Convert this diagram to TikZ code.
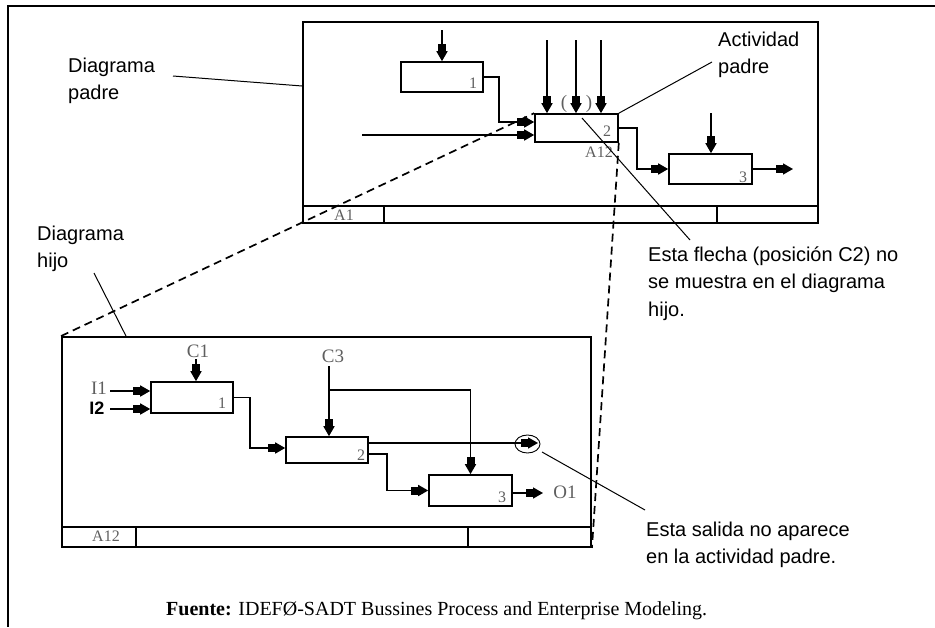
\documentclass[tikz,border=0pt]{standalone}
\usepackage{fontspec}
\setmainfont{Liberation Serif}
\newfontfamily\annfont{Liberation Sans}
\usetikzlibrary{arrows.meta,shapes.geometric,calc}
\definecolor{lblgray}{RGB}{95,95,95}
\begin{document}
\begin{tikzpicture}[x=1pt,y=-1pt,
  frame/.style={draw, line width=1.9pt, inner sep=0pt},
  actbox/.style={draw, line width=1.6pt, inner sep=0pt},
  arr/.style={line width=1.6pt,
    -{Rectangle[length=7pt,width=8pt,sep=0pt]Triangle[length=10pt,width=11pt]}},
  lead/.style={line width=1pt},
  ref/.style={line width=1.7pt, dash pattern=on 8pt off 5pt},
  ann/.style={font=\annfont\fontsize{20}{27.5}\selectfont, align=left,
    anchor=base west, inner sep=0pt},
  lbl/.style={text=lblgray, font=\fontsize{19}{19}\selectfont, inner sep=0pt},
  num/.style={text=lblgray, font=\fontsize{16}{16}\selectfont, inner sep=0pt},
]
\useasboundingbox (0,0) rectangle (935,627);

% page border (top and left edges only)
\draw[line width=1.9pt] (935,6) -- (8,6) -- (8,627);

% ---------------- parent diagram ----------------
\node[frame, minimum width=515pt, minimum height=201pt] (pf) at (560.5,122.5) {};
\draw[line width=1.5pt] (303,206) -- (818,206);
\draw[line width=1.5pt] (384,206) -- (384,223);
\draw[line width=1.5pt] (717,206) -- (717,223);
\node[num] (pA1) at (344,215) {A1};

\node[actbox, minimum width=82pt, minimum height=30pt] (p1) at (442,77) {};
\node[actbox, minimum width=83pt, minimum height=28pt] (p2) at (576.5,128) {};
\node[actbox, minimum width=83pt, minimum height=30pt] (p3) at (710.5,169) {};
\node[num] (p1n) at (473,83) {1};
\node[num] (p2n) at (607,131) {2};
\node[num] (p3n) at (743,177) {3};
\node[num] (p2ref) at (599,152) {A12};
\node[lbl] (parL) at (564,104) {(};
\node[lbl] (parR) at (589,104) {)};

\coordinate (p1c) at (442,30);
\coordinate (p2ca) at (547,40);
\coordinate (p2cb) at (576,40);
\coordinate (p2cc) at (601,40);
\coordinate (p2in) at (362,135);
\coordinate (p3c) at (711,113);
\coordinate (p3out) at (793,169);

\draw[arr] (p1c) -- (p1.north);
\draw[arr] (p1.east) -- (499,77) |- ([yshift=6pt]p2.west);
\draw[arr] (p2in) -- (p2in -| p2.west);
\draw[arr] (p2ca) -- (p2ca |- p2.north);
\draw[arr] (p2cb) -- (p2cb |- p2.north);
\draw[arr] (p2cc) -- (p2cc |- p2.north);
\draw[arr] (p2.east) -- (637,128) |- (p3.west);
\draw[arr] (p3c) -- (p3c |- p3.north);
\draw[arr] (p3.east) -- (p3out);

% ---------------- child diagram ----------------
\node[frame, minimum width=529pt, minimum height=210pt] (cf) at (326.5,442) {};
\draw[line width=1.5pt] (62,527) -- (591,527);
\draw[line width=1.5pt] (136,527) -- (136,547);
\draw[line width=1.5pt] (468,527) -- (468,547);
\node[num] (cA12) at (106,536) {A12};

\node[actbox, minimum width=82pt, minimum height=31pt] (c1) at (192,397.5) {};
\node[actbox, minimum width=82pt, minimum height=26pt] (c2) at (327,450) {};
\node[actbox, minimum width=83pt, minimum height=31pt] (c3) at (470.5,490.5) {};
\node[num] (c1n) at (222,403) {1};
\node[num] (c2n) at (361,455) {2};
\node[num] (c3n) at (502,497) {3};

\node[lbl] (C1) at (198,351) {C1};
\node[lbl] (C3) at (333,356) {C3};
\node[lbl] (I1) at (99,388) {I1};
\node[font=\annfont\bfseries\fontsize{18}{18}\selectfont, inner sep=0pt] (I2) at (97,408) {I2};
\node[lbl] (O1) at (565,492) {O1};
\node[draw, ellipse, line width=0.9pt, minimum width=25pt, minimum height=18pt, inner sep=0pt]
  (oval) at (527.5,444) {};

\coordinate (c1c) at (196,359);
\coordinate (c3c) at (329,366);
\coordinate (c3b) at (329,390);
\coordinate (c2o) at (538,443);
\coordinate (c3o) at (543,493);

\draw[arr] (c1c) -- (c1c |- c1.north);
\draw[arr] (110,391) -- (110,391 -| c1.west);
\draw[arr] (110,409) -- (110,409 -| c1.west);
\draw[arr] (c1.east) -- (250,397.5) |- ([yshift=2pt]c2.west);
\draw[arr] (c3c) -- (c3c |- c2.north);
\draw[arr] (c3b) -- (470.5,390) -- (c3.north);
\draw[arr] ([yshift=7pt]c2.east) -- (c2o);
\draw[arr] ([yshift=-4pt]c2.east) -- (387,454) |- (c3.west);
\draw[arr] ([yshift=-2.5pt]c3.east) -- (c3o);

% ---------------- cross references ----------------
\draw[ref] (cf.north west) -- (p2.north west);
\draw[ref] (p2.south east) -- (cf.south east);

% ---------------- annotations (anchored at the last line's baseline) ----------------
\node[ann] (tDP) at (68,99.5) {Diagrama\\padre};
\node[ann] (tAP) at (718,73.5) {Actividad\\padre};
\node[ann] (tDH) at (37,267.5) {Diagrama\\hijo};
\node[ann] (tEF) at (648,316) {Esta flecha (posición C2) no\\se muestra en el diagrama\\hijo.};
\node[ann] (tES) at (646,563.5) {Esta salida no aparece\\en la actividad padre.};

\coordinate (lDP) at (173,76);
\coordinate (lAP) at (712,62);
\coordinate (lDH) at (94,273);
\coordinate (lEFa) at (582,118);
\coordinate (lEFb) at (690,240);
\coordinate (lESa) at (542,452);
\coordinate (lESb) at (645,510);
\draw[lead] (lDP) -- (pf.west |- 0,86);
\draw[lead] (lAP) -- (p2.north east);
\draw[lead] (lDH) -- (cf.north -| 126,0);
\draw[lead] (lEFa) -- (lEFb);
\draw[lead] (lESa) -- (lESb);

% ---------------- source line ----------------
\node[font=\fontsize{20}{20}\selectfont, anchor=base west, inner sep=0pt] (src) at (166,615)
  {\textbf{Fuente:} IDEFØ-SADT Bussines Process and Enterprise Modeling.};
\end{tikzpicture}
\end{document}
